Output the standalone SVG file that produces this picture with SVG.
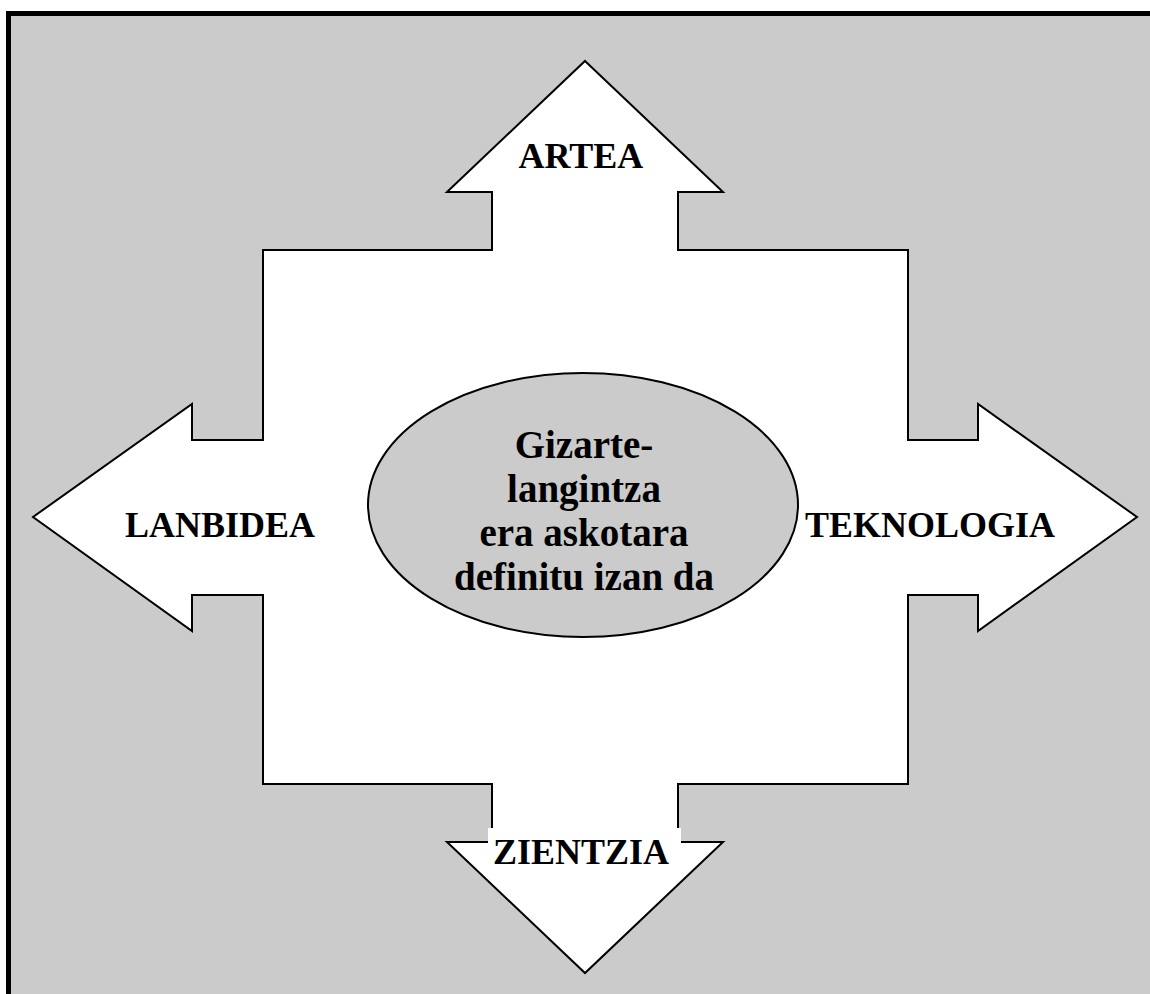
<svg xmlns="http://www.w3.org/2000/svg" width="1150" height="994" viewBox="0 0 1150 994">
<style>
.lbl{font-family:"Liberation Serif","Times New Roman",serif;font-weight:bold;font-size:36px;fill:#000}
.ctr{font-family:"Liberation Serif","Times New Roman",serif;font-weight:bold;font-size:39px;fill:#000;text-anchor:middle}
.shape{fill:#fff;stroke:#000;stroke-width:2;stroke-linejoin:miter}
</style>
<rect width="1150" height="994" fill="#fff"/>
<g id="frame">
<rect x="8.5" y="13.5" width="1160" height="1000" fill="#cbcbcb" stroke="#000" stroke-width="5"/>
</g>
<g id="cross-arrow">
<polygon class="shape" points="585,61 723,192 678,192 678,250 908,250 908,440 978,440 978,404 1137,517 978,631 978,595 908,595 908,784 678,784 678,842 723,842 585,973 447,842 492,842 492,784 263,784 263,595 192,595 192,631 33,517 192,404 192,440 263,440 263,250 492,250 492,192 447,192"/>
</g>
<g id="artea"><text class="lbl" x="581" y="168" text-anchor="middle">ARTEA</text></g>
<g id="zientzia">
<rect x="488" y="828" width="193" height="44" fill="#fff"/>
<text class="lbl" x="581" y="864" text-anchor="middle">ZIENTZIA</text>
</g>
<g id="lanbidea"><text class="lbl" x="125" y="537">LANBIDEA</text></g>
<g id="teknologia"><text class="lbl" x="805" y="537">TEKNOLOGIA</text></g>
<g id="center">
<ellipse cx="583" cy="505" rx="215" ry="132" fill="#cbcbcb" stroke="#000" stroke-width="2"/>
<text class="ctr" x="584" y="458">Gizarte-</text>
<text class="ctr" x="584" y="502">langintza</text>
<text class="ctr" x="584" y="546">era askotara</text>
<text class="ctr" x="584" y="590">definitu izan da</text>
</g>
<g id="connectors"></g>
</svg>
